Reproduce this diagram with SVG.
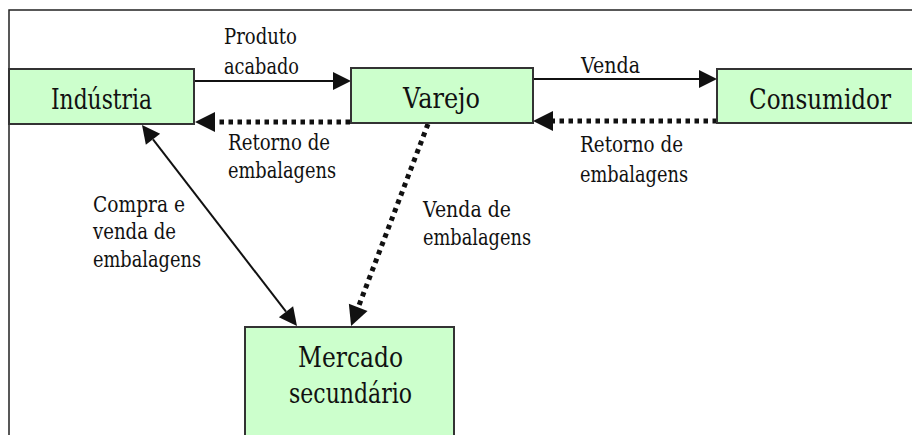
<svg xmlns="http://www.w3.org/2000/svg" width="912" height="435" viewBox="0 0 912 435">
<style>
.box{fill:#ccffcc;stroke:#333;stroke-width:2}
.node{font-family:"DejaVu Serif",serif;font-size:28px;fill:#111;text-anchor:middle}
.lbl{font-family:"DejaVu Serif",serif;font-size:23px;fill:#111}
.solid{stroke:#111;stroke-width:2;fill:none}
.dot{stroke:#111;stroke-width:5;stroke-dasharray:4.5 4.5;fill:none}
.frame{stroke:#222;stroke-width:1.5;fill:none}
</style>
<defs>
<marker id="ah" markerUnits="userSpaceOnUse" markerWidth="18" markerHeight="18" refX="0" refY="9" orient="auto" overflow="visible">
<path d="M0,0 L18,9 L0,18 z" fill="#111"/>
</marker>
<marker id="ahs" markerUnits="userSpaceOnUse" markerWidth="18" markerHeight="18" refX="0" refY="9" orient="auto-start-reverse" overflow="visible">
<path d="M0,0 L18,9 L0,18 z" fill="#111"/>
</marker>
<marker id="ahd" markerUnits="userSpaceOnUse" markerWidth="20" markerHeight="20" refX="0" refY="10" orient="auto" overflow="visible">
<path d="M0,0 L20,10 L0,20 z" fill="#111"/>
</marker>
</defs>
<rect x="0" y="0" width="912" height="435" fill="#fff"/>
<path class="frame" d="M9,435 L9,10 L912,10"/>

<g id="connectors">
<line class="solid" x1="194" y1="81" x2="333" y2="81" marker-end="url(#ah)"/>
<line class="solid" x1="533" y1="79" x2="699" y2="79" marker-end="url(#ah)"/>
<line class="dot" x1="350" y1="122" x2="215" y2="122" marker-end="url(#ahd)"/>
<line class="dot" x1="717" y1="121" x2="553" y2="121" marker-end="url(#ahd)"/>
<line class="solid" x1="153" y1="139.3" x2="286" y2="311.7" marker-start="url(#ahs)" marker-end="url(#ahs)"/>
<line class="dot" x1="428" y1="124" x2="358.2" y2="307.4" marker-end="url(#ahd)"/>
</g>

<g id="labels">
<text class="lbl" x="224" y="44" textLength="73" lengthAdjust="spacingAndGlyphs">Produto</text>
<text class="lbl" x="224" y="74" textLength="75" lengthAdjust="spacingAndGlyphs">acabado</text>
<text class="lbl" x="581" y="73" textLength="59" lengthAdjust="spacingAndGlyphs">Venda</text>
<text class="lbl" x="228" y="150" textLength="102" lengthAdjust="spacingAndGlyphs">Retorno de</text>
<text class="lbl" x="228" y="178" textLength="108" lengthAdjust="spacingAndGlyphs">embalagens</text>
<text class="lbl" x="580" y="152" textLength="103" lengthAdjust="spacingAndGlyphs">Retorno de</text>
<text class="lbl" x="580" y="182" textLength="108" lengthAdjust="spacingAndGlyphs">embalagens</text>
<text class="lbl" x="93" y="212" textLength="92" lengthAdjust="spacingAndGlyphs">Compra e</text>
<text class="lbl" x="93" y="239" textLength="83" lengthAdjust="spacingAndGlyphs">venda de</text>
<text class="lbl" x="93" y="267" textLength="108" lengthAdjust="spacingAndGlyphs">embalagens</text>
<text class="lbl" x="423" y="217" textLength="88" lengthAdjust="spacingAndGlyphs">Venda de</text>
<text class="lbl" x="423" y="245" textLength="108" lengthAdjust="spacingAndGlyphs">embalagens</text>
</g>

<g id="industria">
<rect class="box" x="9" y="69" width="185" height="55"/>
<text class="node" x="101.5" y="109" textLength="101" lengthAdjust="spacingAndGlyphs">Indústria</text>
</g>
<g id="varejo">
<rect class="box" x="351" y="68" width="182" height="55"/>
<text class="node" x="441.5" y="108" textLength="77" lengthAdjust="spacingAndGlyphs">Varejo</text>
</g>
<g id="consumidor">
<rect class="box" x="717" y="69" width="196" height="54"/>
<text class="node" x="820" y="109" textLength="142" lengthAdjust="spacingAndGlyphs">Consumidor</text>
</g>
<g id="mercado">
<rect class="box" x="245" y="327" width="209" height="120"/>
<text class="node" x="350.5" y="367" textLength="105" lengthAdjust="spacingAndGlyphs">Mercado</text>
<text class="node" x="350.5" y="403" textLength="123" lengthAdjust="spacingAndGlyphs">secundário</text>
</g>
</svg>
